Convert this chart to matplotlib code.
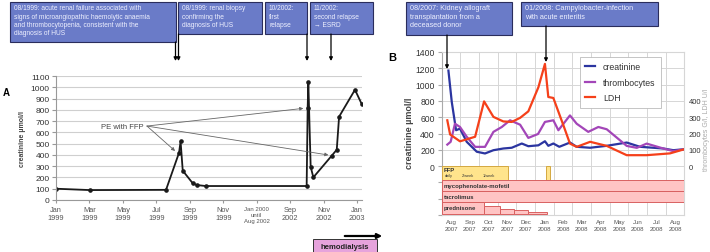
import numpy as np
import matplotlib.pyplot as plt
from matplotlib.patches import Rectangle, FancyArrowPatch

plt.rcParams['font.family'] = ['Liberation Sans', 'DejaVu Sans']

W, H = 710, 253

# Panel A: creatinine, x in months since Jan 1999 (Jan 2000 - Aug 2002 collapsed)
a_months = [0, 2.03, 6.58, 7.36, 7.45, 7.58, 8.18, 8.41, 8.95, 14.99, 15.05, 15.09,
            15.23, 15.39, 16.49, 16.79, 16.93, 17.88, 18.28]
a_creat = [100, 88, 90, 420, 520, 260, 148, 133, 124, 124, 813, 1044,
           295, 201, 393, 446, 739, 978, 852]
a_tick_pos = [0, 2, 4, 6, 8, 10, 12, 14, 16, 18]
a_tick_labels = ['Jan\n1999', 'Mar\n1999', 'May\n1999', 'Jul\n1999', 'Sep\n1999',
                 'Nov\n1999', 'Jan 2000\nuntil\nAug 2002', 'Sep\n2002', 'Nov\n2002', 'Jan\n2003']
pe_targets_x = [7.12, 14.79, 16.29]
pe_targets_y = [435, 813, 399]

# Panel B: months since Aug 2007
b_creat_m = [-0.14, 0.04, 0.27, 0.48, 0.84, 1.38, 1.82, 2.27, 2.80, 3.25, 3.79, 4.14,
             4.68, 5.03, 5.21, 5.48, 5.80, 6.37, 6.73, 7.45, 8.34, 9.41, 10.12, 11.37, 11.91, 12.48]
b_creat = [1172, 786, 440, 460, 298, 176, 155, 195, 216, 225, 277, 244,
           255, 305, 249, 277, 237, 289, 237, 225, 249, 289, 237, 216, 195, 207]
b_thr_m = [-0.20, -0.02, 0.21, 0.48, 0.84, 1.29, 1.82, 2.27, 2.72, 3.16, 3.70, 4.14, 4.66,
           5.03, 5.48, 5.75, 6.37, 6.73, 7.35, 7.89, 8.34, 9.41, 9.95, 10.48, 11.37, 11.91, 12.48]
b_thr = [132, 149, 260, 240, 180, 118, 118, 210, 240, 281, 254, 173, 197,
         271, 281, 220, 311, 260, 210, 240, 226, 124, 112, 138, 108, 92, 103]
b_ldh_m = [-0.20, -0.05, 0.48, 1.29, 1.77, 2.27, 2.80, 3.25, 3.70, 4.14, 4.68, 5.03,
           5.21, 5.48, 6.02, 6.37, 6.73, 7.45, 8.34, 9.41, 10.48, 11.73, 12.48]
b_ldh = [281, 194, 152, 180, 397, 302, 274, 271, 296, 336, 484, 627,
         424, 418, 250, 138, 118, 149, 124, 67, 67, 78, 103]
b_months = ['Aug\n2007', 'Sep\n2007', 'Oct\n2007', 'Nov\n2007', 'Dec\n2007', 'Jan\n2008',
            'Feb\n2008', 'Mar\n2008', 'Apr\n2008', 'May\n2008', 'Jun\n2008', 'Jul\n2008', 'Aug\n2008']

# treatment periods (months since Aug 2007)
ffp_span = (-0.5, 3.07)
ffp_jan = (5.09, 5.30)
ffp_phases = ['daily', '2/week', '1/week']
ffp_phase_m = [-0.35, 0.55, 1.7]
immuno_names = ['mycophenolate-mofetil', 'tacrolimus']
immuno_span = (-0.5, 12.5)
pred_start = [-0.5, 1.75, 2.6, 3.37, 4.12]
pred_end = [1.75, 2.6, 3.37, 4.12, 5.12]
pred_dose = [1.0, 0.6, 0.42, 0.28, 0.12]


def fx(x):
    return x / W


def fy(y):
    return 1 - y / H


fig = plt.figure(figsize=(7.1, 2.53), dpi=100)

# ---------------- panel A ----------------
axA = fig.add_axes([fx(56), fy(201), (362 - 56) / W, (201 - 77) / H])
axA.plot(a_months, a_creat, color='#1a1a1a', lw=1.3, marker='o', ms=2.3)
axA.set_xlim(0, 18.3)
axA.set_ylim(0, 1100)
axA.set_yticks(range(0, 1101, 100))
axA.grid(axis='y', color='#cfcfcf', lw=0.8)
axA.set_axisbelow(True)
axA.set_xticks(a_tick_pos)
axA.set_xticklabels(a_tick_labels, fontsize=5.3, color='#555', linespacing=1.3)
axA.get_xticklabels()[6].set_fontsize(4.3)
for s in ['top', 'right']:
    axA.spines[s].set_visible(False)
for s in ['left', 'bottom']:
    axA.spines[s].set_color('#999')
axA.tick_params(axis='y', labelsize=6, length=3, color='#999', pad=1.5, labelcolor='#333')
axA.tick_params(axis='x', length=2, color='#999', pad=2)
fig.text(fx(23), fy(139), 'creatinine µmol/l', rotation=90, ha='center', va='center',
         fontsize=5, fontweight='bold', color='#444')

axA.text(3.95, 648, 'PE with FFP', fontsize=5.5, color='#444', ha='center', va='center')
for tx, ty in zip(pe_targets_x, pe_targets_y):
    axA.annotate('', xy=(tx, ty), xytext=(5.44, 656),
                 arrowprops=dict(arrowstyle='-|>', color='#666', lw=0.6,
                                 mutation_scale=5, shrinkA=0, shrinkB=0))

fig.text(fx(3), fy(93), 'A', fontsize=7, fontweight='bold', ha='left', va='center')

# hemodialysis marker
fig.add_artist(Rectangle((fx(313), fy(256)), (377 - 313) / W, (256 - 240) / H,
                         transform=fig.transFigure, facecolor='#e6a3dc', edgecolor='#333', lw=0.7))
fig.text(fx(345), fy(248), 'hemodialysis', fontsize=5.5, fontweight='bold', color='#222',
         ha='center', va='center')
fig.add_artist(FancyArrowPatch((fx(342), fy(237)), (fx(385), fy(237)), transform=fig.transFigure,
                               arrowstyle='-|>', mutation_scale=7, lw=1.6, color='black'))

# ---------------- panel B ----------------
axB = fig.add_axes([fx(441.7), fy(216), (684.4 - 441.7) / W, (216 - 53) / H])
axB.set_xlim(-0.5, 12.5)
axB.set_ylim(-600, 1400)
yt = list(range(-600, 1401, 200))
axB.set_yticks(yt)
axB.set_yticklabels([str(v) if v >= 0 else '' for v in yt])
axB.set_xticks(range(13))
axB.set_xticklabels(b_months, fontsize=4.4, color='#555', linespacing=1.5)
axB.set_xticks(np.arange(-0.5, 12.6, 1), minor=True)
axB.grid(which='minor', axis='x', color='#d6d6d6', lw=0.7)
axB.grid(which='major', axis='y', color='#d6d6d6', lw=0.7)
axB.set_axisbelow(True)
axB.tick_params(axis='x', which='both', length=0, pad=3)
axB.tick_params(axis='y', labelsize=6.2, length=3, color='#aaa', pad=2, labelcolor='#333')
for s in axB.spines.values():
    s.set_color('#d6d6d6')
axB.spines['left'].set_color('#aaa')
fig.text(fx(410), fy(133), 'creatinine µmol/l', rotation=90, ha='center', va='center',
         fontsize=6.5, fontweight='bold', color='#444')

# treatment rows
axB.add_patch(Rectangle((ffp_span[0], -165), ffp_span[1] - ffp_span[0], 165,
                        facecolor='#ffe48c', edgecolor='#d4a840', lw=0.7, zorder=3))
axB.add_patch(Rectangle((ffp_jan[0], -165), ffp_jan[1] - ffp_jan[0], 165,
                        facecolor='#ffe48c', edgecolor='#d4a840', lw=0.7, zorder=3))
axB.text(-0.4, -40, 'FFP', fontsize=4.3, fontweight='bold', color='#333', va='center', zorder=4)
for lab, m in zip(ffp_phases, ffp_phase_m):
    axB.text(m, -115, lab, fontsize=2.8, color='#333', va='center', zorder=4)
row_tops = [-165, -300]
for name, top in zip(immuno_names, row_tops):
    axB.add_patch(Rectangle((immuno_span[0], top - 135), immuno_span[1] - immuno_span[0], 135,
                            facecolor='#ffc4c4', edgecolor='#d86060', lw=0.7, zorder=3))
    axB.text(-0.4, top - 67, name, fontsize=4.3, fontweight='bold', color='#333',
             va='center', zorder=4)
for s0, s1, d in zip(pred_start, pred_end, pred_dose):
    axB.add_patch(Rectangle((s0, -585), s1 - s0, 150 * d,
                            facecolor='#ffc4c4', edgecolor='#d86060', lw=0.7, zorder=3))
axB.text(-0.4, -510, 'prednisone', fontsize=4.3, fontweight='bold', color='#333',
         va='center', zorder=4)

l1, = axB.plot(b_creat_m, b_creat, color='#2b35a0', lw=1.6, label='creatinine', zorder=5)
axR = axB.twinx()
axR.set_ylim(-300, 700)
l2, = axR.plot(b_thr_m, b_thr, color='#a346b8', lw=1.6, label='thrombocytes')
l3, = axR.plot(b_ldh_m, b_ldh, color='#f5401a', lw=1.6, label='LDH')
axR.set_yticks([0, 100, 200, 300, 400])
axR.tick_params(axis='y', labelsize=5.5, length=0, pad=3, labelcolor='#333')
for s in axR.spines.values():
    s.set_visible(False)
leg = axR.legend(handles=[l1, l2, l3], loc='upper left', fontsize=6.3,
                 bbox_to_anchor=(fx(580), fy(58)), bbox_transform=fig.transFigure,
                 handlelength=1.1, handletextpad=0.9, labelspacing=0.75,
                 fancybox=False, borderpad=0.6, borderaxespad=0, framealpha=1)
leg.get_frame().set_edgecolor('#bbb')
leg.get_frame().set_linewidth(0.6)
for t in leg.get_texts():
    t.set_color('#333')
fig.text(fx(706), fy(130), 'thrombocytes G/l, LDH U/l', rotation=90, ha='center', va='center',
         fontsize=5, color='#aaa')

fig.text(fx(392), fy(58), 'B', fontsize=8, fontweight='bold', ha='center', va='center')

# ---------------- event boxes ----------------
def event_box(x0, y0, x1, y1, text, fs):
    fig.add_artist(Rectangle((fx(x0), fy(y1)), (x1 - x0) / W, (y1 - y0) / H,
                             transform=fig.transFigure, facecolor='#6a7bc8',
                             edgecolor='#2a2d5c', lw=0.8))
    fig.text(fx(x0 + 4), fy(y0 + 2.5), text, fontsize=fs, color='#eef0ff',
             ha='left', va='top', linespacing=1.25)


def event_arrow(x, y0, y1):
    fig.add_artist(FancyArrowPatch((fx(x), fy(y0)), (fx(x), fy(y1)), transform=fig.transFigure,
                                   arrowstyle='-|>', mutation_scale=5, lw=0.9, color='black',
                                   shrinkA=0, shrinkB=0))


event_box(10, 3, 176, 43, '08/1999: acute renal failure associated with\n'
          'signs of microangiopathic haemolytic anaemia\n'
          'and thrombocytopenia, consistent with the\ndiagnosis of HUS', 4.8)
event_box(178, 3, 262, 35, '08/1999: renal biopsy\nconfirming the\ndiagnosis of HUS', 4.8)
event_box(265, 3, 307, 35, '10/2002:\nfirst\nrelapse', 4.8)
event_box(310, 3, 373, 35, '11/2002:\nsecond relapse\n\u2192 ESRD', 4.8)
event_box(406, 3, 512, 36, '08/2007: Kidney allograft\ntransplantation from a\ndeceased donor', 5.2)
event_box(521, 3, 658, 27, '01/2008: Campylobacter-infection\nwith acute enteritis', 5.2)

event_arrow(175.5, 43, 62)
event_arrow(178.5, 35, 62)
event_arrow(307, 35, 62)
event_arrow(331, 35, 62)
event_arrow(447, 36, 70)
event_arrow(546, 27, 63)

fig.savefig('out.png', dpi=100)
